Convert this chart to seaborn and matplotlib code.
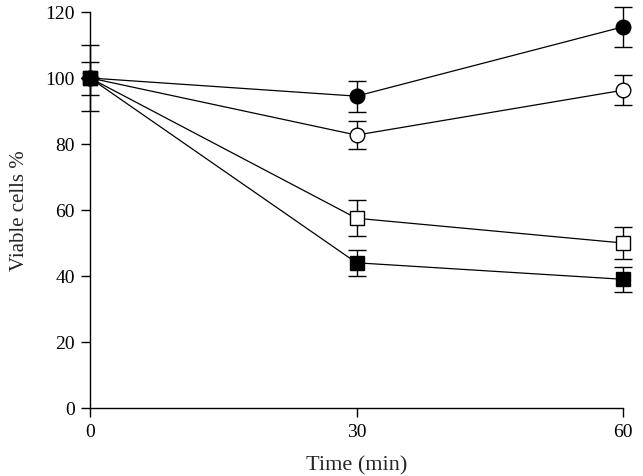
import matplotlib
matplotlib.use("Agg")
import matplotlib.pyplot as plt
import seaborn as sns
import pandas as pd

time = [0, 30, 60]
filled_circle = [100, 94.5, 115.5]
filled_circle_err = [10, 4.7, 6]
open_circle = [100, 82.7, 96.3]
open_circle_err = [5, 4.2, 4.5]
open_square = [100, 57.5, 50.0]
open_square_err = [0, 5.4, 4.8]
filled_square = [100, 44.0, 39.0]
filled_square_err = [0, 4.0, 3.7]

sns.set_style("ticks")
plt.rcParams['font.family'] = ['Liberation Serif', 'DejaVu Serif']

fig = plt.figure(figsize=(6.43, 4.77), dpi=100)
ax = fig.add_axes([90/643, (477-409)/477, (623-90)/643, (409-13)/477])

series = [
    ("fc", filled_circle, filled_circle_err, "o", "black"),
    ("oc", open_circle, open_circle_err, "o", "white"),
    ("os", open_square, open_square_err, "s", "white"),
    ("fs", filled_square, filled_square_err, "s", "black"),
]

for name, vals, errs, mk, fc in series:
    df = pd.DataFrame({"t": time, "v": vals})
    ax.errorbar(time, vals, yerr=errs, fmt="none", ecolor="black",
                elinewidth=1, capsize=6.5, capthick=1, clip_on=False, zorder=2)
    sns.lineplot(data=df, x="t", y="v", ax=ax, color="black", linewidth=0.9,
                 marker=mk, markersize=10.5,
                 markerfacecolor=fc, markeredgecolor="black",
                 markeredgewidth=1, clip_on=False, zorder=3)

ax.set_xlim(0, 60)
ax.set_ylim(0, 120)
ax.set_xticks([0, 30, 60])
ax.set_yticks([0, 20, 40, 60, 80, 100, 120])
ax.tick_params(axis="both", direction="out", length=6.5, width=1, labelsize=14,
               colors="black", pad=4.5)
for s in ["top", "right"]:
    ax.spines[s].set_visible(False)
for s in ["left", "bottom"]:
    ax.spines[s].set_linewidth(1)
    ax.spines[s].set_color("black")
ax.set_xlabel("Time (min)", fontsize=16, labelpad=11)
ax.set_ylabel("Viable cells %", fontsize=15, labelpad=12)

fig.savefig("out.png", dpi=100)
